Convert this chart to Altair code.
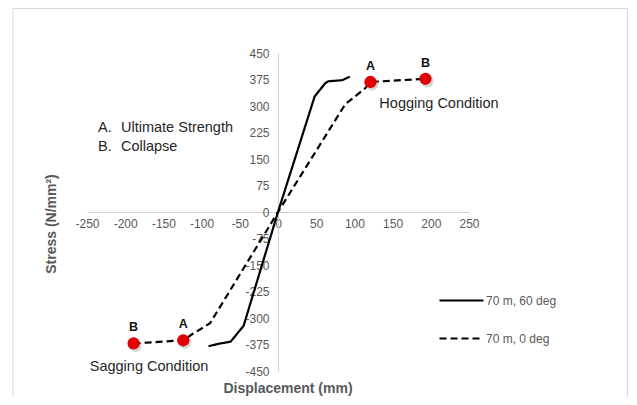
import altair as alt
import pandas as pd

# ---- data ----
series_names = ["70 m, 60 deg", "70 m, 0 deg"]
solid_x = [-91, -78, -62, -45, 0, 48, 62, 66, 84, 94]
solid_y = [-380, -373, -367, -322, 0, 327, 365, 370, 373, 383]
dashed_x = [-189, -124, -111, -89, 0, 88, 114, 121, 193]
dashed_y = [-372, -363, -344, -315, 0, 305, 350, 368, 377]

point_x = [121, 193, -124, -189]
point_y = [368, 377, -363, -372]
point_label = ["A", "B", "A", "B"]

x_ticks = [-250, -200, -150, -100, -50, 0, 50, 100, 150, 200, 250]
y_ticks = [-450, -375, -300, -225, -150, -75, 0, 75, 150, 225, 300, 375, 450]

note_keys = ["A.", "B."]
note_texts = ["Ultimate Strength", "Collapse"]
condition_texts = ["Hogging Condition", "Sagging Condition"]
x_title = "Displacement (mm)"
y_title = "Stress (N/mm²)"

# ---- tables ----
lines_df = pd.concat([
    pd.DataFrame({"x": solid_x, "y": solid_y, "series": series_names[0]}),
    pd.DataFrame({"x": dashed_x, "y": dashed_y, "series": series_names[1]}),
])
points_df = pd.DataFrame({"x": point_x, "y": point_y, "label": point_label})
one = pd.DataFrame({"k": [0]})

W, H = 382, 318
FONT = "Liberation Sans"
GRAY = "#595959"

xs = alt.Scale(domain=[-250, 250], nice=False, zero=False)
ys = alt.Scale(domain=[-450, 450], nice=False, zero=False)

x_axis = alt.Axis(values=x_ticks, orient="bottom", offset=-H / 2, ticks=False, grid=False,
                  domainColor="#d0d0d0", domainWidth=1, labelColor=GRAY, labelFont=FONT,
                  labelFontSize=12, labelPadding=6, labelOverlap=False, labelFlush=False,
                  labelExpr="datum.value + ''", title=None)
y_axis = alt.Axis(values=y_ticks, orient="left", offset=-W / 2, ticks=False, grid=False,
                  domainColor="#d0d0d0", domainWidth=1, labelColor=GRAY, labelFont=FONT,
                  labelFontSize=12, labelPadding=9, labelOverlap=False, labelFlush=False,
                  labelExpr="datum.value + ''", title=None)

X = alt.X("x:Q", scale=xs, axis=x_axis)
Y = alt.Y("y:Q", scale=ys, axis=y_axis)

lines = alt.Chart(lines_df).mark_line(color="black", strokeWidth=2.2).encode(
    x=X,
    y=Y,
    strokeDash=alt.StrokeDash(
        "series:N",
        scale=alt.Scale(domain=series_names, range=[[1, 0], [7, 4]]),
        legend=alt.Legend(orient="none", legendX=351, legendY=224, title=None,
                          symbolType="stroke", symbolSize=1936, symbolStrokeWidth=2.2,
                          symbolStrokeColor="black", labelFont=FONT, labelFontSize=12,
                          labelColor=GRAY, labelOffset=1, rowPadding=8),
    ),
    detail="series:N",
)

shadow = alt.Chart(points_df).mark_circle(size=170, color="#888888", opacity=0.35,
                                          xOffset=1.5, yOffset=2).encode(x=X, y=Y)
points = alt.Chart(points_df).mark_circle(size=150, color="#e00000", opacity=1).encode(x=X, y=Y)
point_text = alt.Chart(points_df).mark_text(dy=-16, fontWeight="bold", fontSize=12.5,
                                            font=FONT, color="#111111").encode(
    x=X, y=Y, text="label:N")


def txt(s, x, y, **kw):
    props = dict(font=FONT, fontSize=14.5, color="#262626", baseline="middle")
    props.update(kw)
    return alt.Chart(one).mark_text(text=s, **props).encode(x=alt.value(x), y=alt.value(y))


notes = [
    txt(note_keys[0], 11, 75, align="left"),
    txt(note_texts[0], 34, 75, align="left"),
    txt(note_keys[1], 11, 94, align="left"),
    txt(note_texts[1], 34, 94, align="left"),
    txt(condition_texts[0], 352, 51, align="center"),
    txt(condition_texts[1], 62, 314, align="center"),
    txt(x_title, 201, 336, align="center", fontWeight="bold", fontSize=14, color=GRAY),
    txt(y_title, -35, 171, align="center", fontWeight="bold", fontSize=14, color=GRAY, angle=270),
]

FR = "#d9d9d9"
frame = [
    alt.Chart(one).mark_rule(color=FR, strokeWidth=1).encode(
        x=alt.value(-74), y=alt.value(-44.5), y2=alt.value(344)),
    alt.Chart(one).mark_rule(color=FR, strokeWidth=1).encode(
        x=alt.value(540.5), y=alt.value(-44.5), y2=alt.value(344)),
    alt.Chart(one).mark_rule(color=FR, strokeWidth=1).encode(
        x=alt.value(-74), x2=alt.value(540.5), y=alt.value(-44.5)),
]

chart = alt.layer(*frame, lines, shadow, points, point_text, *notes).properties(
    width=W, height=H,
    autosize=alt.AutoSizeParams(type="none"),
    padding={"left": 79, "top": 45, "right": 160, "bottom": 26},
    background="white",
).configure_view(stroke=None)

chart.save("out.html", embed_options={"renderer": "svg", "actions": False})
